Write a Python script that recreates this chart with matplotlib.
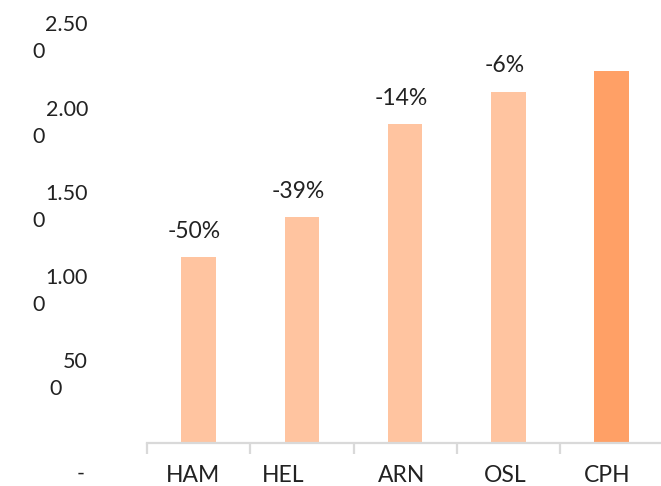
import matplotlib
matplotlib.use("Agg")
import matplotlib.pyplot as plt
import numpy as np

# ---- data ----
airports = ["HAM", "HEL", "ARN", "OSL", "CPH"]
passengers = [1102, 1341, 1893, 2085, 2208]
pct_labels = ["-50%", "-39%", "-14%", "-6%", ""]
ytick_values = [0, 500, 1000, 1500, 2000, 2500]
ytick_labels = ["-", "500", "1.000", "1.500", "2.000", "2.500"]

# ---- layout / style ----
W, H = 661, 486
FONT = ["Lato", "DejaVu Sans"]
TXT = "#222222"
GRID = "#d9d9d9"
light, dark = "#FFC4A0", "#FFA066"
bar_colors = [light] * 4 + [dark]
xlabel_dx = [-6, -19, -4, -3, -4]

plt.rcParams["font.family"] = FONT

fig = plt.figure(figsize=(W / 100, H / 100), dpi=100)
ax = fig.add_axes([147 / W, 43 / H, 516.3 / W, 421 / H])

x = np.arange(len(airports))
ax.bar(x, passengers, width=0.335, color=bar_colors, zorder=2)
ax.set_xlim(-0.5, len(airports) - 0.5)
ax.set_ylim(0, 2500)

for s in ["top", "right", "left"]:
    ax.spines[s].set_visible(False)
ax.spines["bottom"].set_color(GRID)
ax.spines["bottom"].set_linewidth(1.6)

ax.set_yticks([])
ax.set_xticks(x)
ax.set_xticklabels([])
ax.tick_params(axis="x", which="major", length=0)
ax.set_xticks(np.arange(-0.5, len(airports), 1), minor=True)
ax.tick_params(axis="x", which="minor", length=8, width=1.6, color=GRID, direction="out")

# x labels
for i, lab in enumerate(airports):
    ax.annotate(lab, (i, 0), xycoords="data", xytext=(xlabel_dx[i], -39),
                textcoords="offset pixels", ha="center", va="baseline",
                fontsize=16.5, color=TXT, annotation_clip=False)

# percentage labels
for i, (v, lab) in enumerate(zip(passengers, pct_labels)):
    if lab:
        ax.annotate(lab, (i, v), xycoords="data", xytext=(-4, 19.5),
                    textcoords="offset pixels", ha="center", va="baseline",
                    fontsize=16.5, color=TXT)

# y tick labels (wrapped: last character on a second line)
fig.canvas.draw()
renderer = fig.canvas.get_renderer()
for v, lab in zip(ytick_values, ytick_labels):
    ydisp = ax.transData.transform((0, v))[1]
    base1 = ydisp - 9.5
    base2 = base1 - 27
    first, last = lab[:-1], lab[-1]
    if first:
        t1 = fig.text(88 / W, base1 / H, first, ha="right", va="baseline",
                      fontsize=15.5, color=TXT)
        bb = t1.get_window_extent(renderer)
        fig.text((bb.x0 - 1) / W, base2 / H, last, ha="right", va="baseline",
                 fontsize=15.5, color=TXT)
    else:
        fig.text(80.5 / W, base2 / H, last, ha="center", va="baseline",
                 fontsize=15.5, color=TXT)

fig.savefig("out.png", dpi=100)
